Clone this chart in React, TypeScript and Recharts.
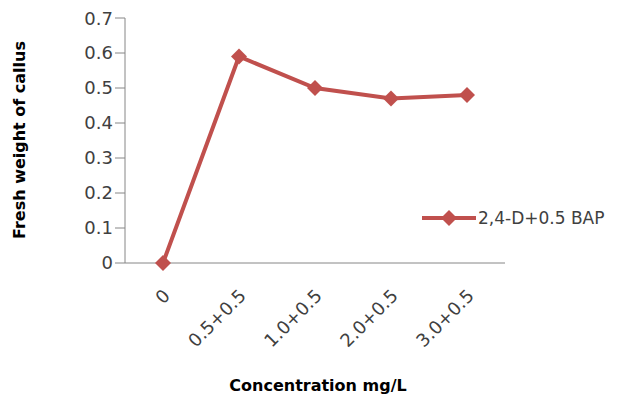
import React from "react";
import { LineChart, Line, XAxis, YAxis } from "recharts";

const categories = ["0", "0.5+0.5", "1.0+0.5", "2.0+0.5", "3.0+0.5"];
const values = [0, 0.59, 0.5, 0.47, 0.48];
const yTicks = [0, 0.1, 0.2, 0.3, 0.4, 0.5, 0.6, 0.7];
const seriesName = "2,4-D+0.5 BAP";

const data = categories.map((c, i) => ({ c, v: values[i] }));
const RED = "#C0504D";
const FONT = "'DejaVu Sans', Verdana, sans-serif";

const Diamond = (props: any) => {
  const { cx, cy } = props;
  if (cx == null || cy == null) return null;
  const s = 8;
  return <path d={`M${cx},${cy - s}L${cx + s},${cy}L${cx},${cy + s}L${cx - s},${cy}Z`} fill={RED} />;
};

const XTick = (props: any) => {
  const { x, y, payload } = props;
  return (
    <text x={x + 8} y={y + 26} transform={`rotate(-45 ${x + 8} ${y + 26})`} textAnchor="end"
      fontFamily={FONT} fontSize={18} fill="#404040">{payload.value}</text>
  );
};

export default function App() {
  return (
    <div style={{ position: "relative", width: 638, height: 400 }}>
      <LineChart width={638} height={400} data={data} margin={{ top: 10, right: 141, bottom: 0, left: 0 }}>
        <XAxis dataKey="c" tick={<XTick />} tickLine={false} axisLine={{ stroke: "#868686" }} height={145}
          interval={0} padding={{ left: 38, right: 38 }} />
        <YAxis domain={[0, 0.7]} ticks={yTicks} width={117} tickLine={{ stroke: "#868686" }} tickSize={10}
          axisLine={{ stroke: "#868686" }} tick={{ fontFamily: FONT, fontSize: 18, fill: "#404040" }} />
        <Line dataKey="v" name={seriesName} stroke={RED} strokeWidth={4} dot={<Diamond />} isAnimationActive={false} />
      </LineChart>
      <div style={{ position: "absolute", left: 412, top: 200, display: "flex", alignItems: "center", fontFamily: FONT, fontSize: 17, color: "#404040" }}>
        <svg width={58} height={18}>
          <line x1={2} y1={9} x2={56} y2={9} stroke={RED} strokeWidth={4} />
          <path d="M29,1L37,9L29,17L21,9Z" fill={RED} />
        </svg>
        <span>{seriesName}</span>
      </div>
      <div style={{ position: "absolute", left: 0, top: 368, width: 620, textAlign: "center", fontFamily: FONT, fontWeight: "bold", fontSize: 16, color: "#000" }}>
        Concentration mg/L
      </div>
      <div style={{ position: "absolute", left: 11, top: 132, transform: "translate(-50%,-50%) rotate(-90deg)", whiteSpace: "nowrap", fontFamily: FONT, fontWeight: "bold", fontSize: 16, color: "#000" }}>
        Fresh weight of callus
      </div>
    </div>
  );
}
